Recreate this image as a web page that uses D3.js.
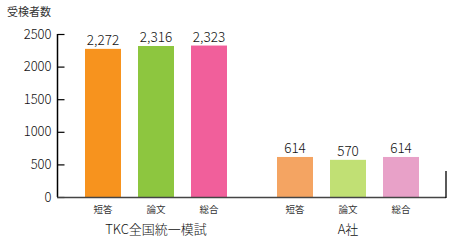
<!DOCTYPE html>
<html><head><meta charset="utf-8">
<script src="https://cdn.jsdelivr.net/npm/d3@7"></script>
<style>
html,body{margin:0;padding:0;background:#fff;}
svg{display:block;font-family:"Noto Sans CJK JP","Noto Sans",sans-serif;}
</style></head>
<body>
<svg id="c" width="465" height="240"></svg>
<script>
const groups = ["TKC全国統一模試", "A社"];
const categories = ["短答", "論文", "総合"];
const tkcValues = [2272, 2316, 2323];
const aValues = [614, 570, 614];
const valueLabels = [["2,272", "2,316", "2,323"], ["614", "570", "614"]];
const yTicks = [0, 500, 1000, 1500, 2000, 2500];
const colors = [["#F7931E", "#8DC63F", "#F15F9B"], ["#F4A462", "#C1E074", "#E8A1C8"]];
const yTitle = "受検者数";

const data = [];
[tkcValues, aValues].forEach((vals, gi) => {
  vals.forEach((v, ci) => data.push({g: groups[gi], c: categories[ci], v, gi, ci, label: valueLabels[gi][ci]}));
});

const svg = d3.select("#c");
const x0 = d3.scaleBand().domain(groups).range([60, 444]).padding(0);
const x1 = d3.scaleBand().domain(categories).range([-79.5, 79.5]).paddingInner(17/53).paddingOuter(17/106);
const y = d3.scaleLinear().domain([0, 2500]).range([197, 34]);

// bars
svg.append("g").selectAll("rect").data(data).join("rect")
  .attr("x", d => x0(d.g) + x0.bandwidth()/2 + x1(d.c))
  .attr("y", d => y(d.v))
  .attr("width", x1.bandwidth())
  .attr("height", d => y(0) - y(d.v))
  .attr("fill", d => colors[d.gi][d.ci]);

// value labels
svg.append("g").selectAll("text").data(data).join("text")
  .attr("x", d => x0(d.g) + x0.bandwidth()/2 + x1(d.c) + x1.bandwidth()/2)
  .attr("y", d => y(d.v) - 4)
  .attr("text-anchor", "middle")
  .attr("font-size", 13.5)
  .attr("font-weight", 300)
  .attr("fill", "#111")
  .text(d => d.label);

// category labels
svg.append("g").selectAll("text").data(data).join("text")
  .attr("x", d => x0(d.g) + x0.bandwidth()/2 + x1(d.c) + x1.bandwidth()/2)
  .attr("y", 213)
  .attr("text-anchor", "middle")
  .attr("font-size", 9.5)
  .attr("fill", "#333")
  .text(d => d.c);

// group labels
svg.append("g").selectAll("text").data(groups).join("text")
  .attr("x", d => x0(d) + x0.bandwidth()/2)
  .attr("y", 234)
  .attr("text-anchor", "middle")
  .attr("font-size", 13)
  .attr("font-weight", 300)
  .attr("fill", "#111")
  .text(d => d);

// y axis
const yAxis = d3.axisLeft(y).tickValues(yTicks).tickSize(-7).tickPadding(6).tickFormat(d3.format("d"));
const ga = svg.append("g").attr("transform", "translate(57.5,0)").call(yAxis);
ga.select(".domain").attr("stroke", "#000").attr("stroke-width", 1.5).attr("d", `M0,${y(2500)}V${y(0)}`);
ga.selectAll(".tick line").attr("stroke", "#000").attr("stroke-width", 1.2);
ga.selectAll(".tick text").attr("font-size", 13).attr("font-weight", 300).attr("fill", "#111")
  .attr("font-family", "'Noto Sans CJK JP',sans-serif");

// baseline and right edge
svg.append("line").attr("x1", 57).attr("x2", 446).attr("y1", y(0)+0.5).attr("y2", y(0)+0.5)
  .attr("stroke", "#444").attr("stroke-width", 1.5);
svg.append("line").attr("x1", 446).attr("x2", 446).attr("y1", 171).attr("y2", y(0)+1)
  .attr("stroke", "#000").attr("stroke-width", 1.3);

// title
svg.append("text").attr("x", 7).attr("y", 16).attr("font-size", 11).attr("fill", "#333").text(yTitle);
</script>
</body></html>
